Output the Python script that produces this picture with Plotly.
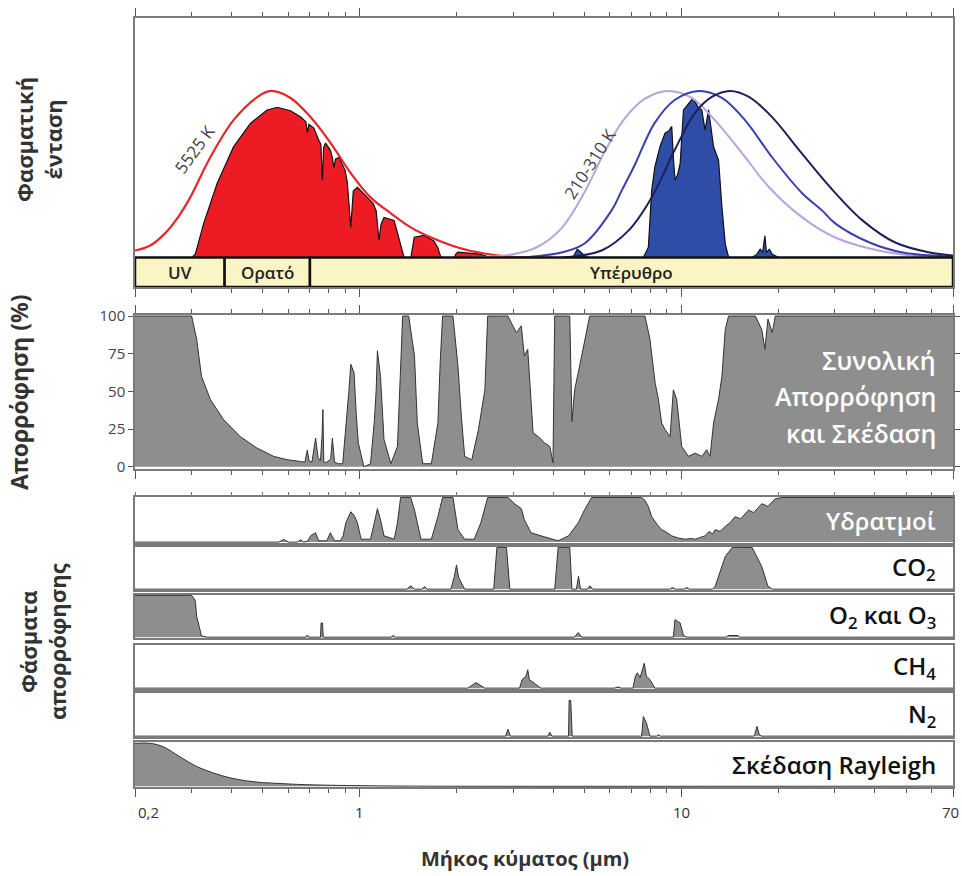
import math
import plotly.graph_objects as go

# ---------------- data (wavelength in µm, value) ----------------
# Top panel: relative spectral intensity (peak = 1)
BB_5525K = [(0.200, 0.042), (0.223, 0.072), (0.248, 0.145), (0.272, 0.241), (0.297, 0.361),
            (0.343, 0.602), (0.405, 0.825), (0.481, 0.964), (0.528, 1.0), (0.609, 0.958),
            (0.703, 0.843), (0.812, 0.687), (0.938, 0.506), (1.08, 0.361), (1.25, 0.265),
            (1.44, 0.181), (1.67, 0.120), (2.02, 0.060), (2.44, 0.024), (2.90, 0.006), (3.94, 0.0)]

SOLAR_SURFACE = [(0.300, 0), (0.308, 0.02), (0.327, 0.203), (0.360, 0.444), (0.405, 0.664),
                 (0.457, 0.805), (0.515, 0.886), (0.554, 0.902), (0.609, 0.881), (0.654, 0.845),
                 (0.680, 0.815), (0.687, 0.75), (0.695, 0.80), (0.720, 0.777), (0.745, 0.705),
                 (0.757, 0.68), (0.765, 0.464), (0.772, 0.66), (0.783, 0.687), (0.810, 0.645),
                 (0.822, 0.60), (0.831, 0.536), (0.840, 0.59), (0.862, 0.602), (0.900, 0.524),
                 (0.915, 0.45), (0.938, 0.181), (0.955, 0.40), (0.984, 0.422), (1.057, 0.361),
                 (1.100, 0.325), (1.125, 0.28), (1.148, 0.102), (1.165, 0.20), (1.19, 0.241),
                 (1.279, 0.223), (1.33, 0.102), (1.355, 0.05), (1.374, 0), (1.442, 0),
                 (1.460, 0.07), (1.477, 0.122), (1.587, 0.133), (1.700, 0.10), (1.747, 0.062),
                 (1.770, 0.02), (1.789, 0), (1.968, 0), (1.990, 0.02), (2.017, 0.032),
                 (2.10, 0.03), (2.33, 0.022), (2.45, 0.012), (2.50, 0.005), (2.60, 0)]

BB_310K = [(2.22, 0), (2.96, 0.018), (3.54, 0.06), (4.24, 0.175), (5.0, 0.392), (5.77, 0.633),
           (6.61, 0.825), (7.69, 0.952), (9.14, 1.0), (10.78, 0.958), (12.72, 0.825),
           (15.45, 0.627), (18.75, 0.422), (23.77, 0.241), (30.1, 0.120), (38.5, 0.054),
           (48.8, 0.018), (70, 0.006)]
BB_260K = [(3.18, 0), (4.24, 0.03), (5.0, 0.084), (6.07, 0.283), (6.52, 0.40), (7.16, 0.554),
           (8.26, 0.807), (9.54, 0.946), (11.34, 1.0), (13.38, 0.958), (15.78, 0.825),
           (19.16, 0.602), (23.77, 0.386), (27.4, 0.283), (30.1, 0.205), (38.5, 0.090),
           (48.8, 0.030), (70, 0.006)]
BB_210K = [(4.24, 0), (5.65, 0.042), (6.86, 0.163), (8.09, 0.361), (9.54, 0.645), (11.02, 0.867),
           (12.45, 0.964), (14.17, 1.0), (16.24, 0.964), (19.16, 0.843), (23.26, 0.645),
           (28.8, 0.43), (36.6, 0.223), (46.3, 0.090), (59.2, 0.030), (70, 0.012)]

THERMAL_ESCAPE = [(4.6, 0), (4.75, 0.05), (4.95, 0.02), (5.1, 0), (7.62, 0), (7.90, 0.062),
                  (8.09, 0.404), (8.28, 0.546), (8.59, 0.667), (8.90, 0.747), (9.15, 0.76),
                  (9.34, 0.787), (9.45, 0.60), (9.56, 0.464), (9.75, 0.50), (9.92, 0.564),
                  (10.16, 0.886), (10.53, 0.926), (10.8, 0.95), (11.04, 0.936), (11.3, 0.90),
                  (11.58, 0.886), (11.86, 0.765), (12.16, 0.886), (12.4, 0.75), (12.6, 0.665),
                  (13.06, 0.584), (13.2, 0.45), (13.38, 0.303), (13.7, 0.082), (14.04, 0),
                  (16.6, 0), (17.2, 0.02), (17.6, 0.05), (17.9, 0.03), (18.2, 0.13), (18.4, 0.03),
                  (18.8, 0.05), (19.2, 0.02), (20.1, 0)]

# Total absorption and scattering (%)
TOTAL_ABS = [(0.200, 100), (0.300, 100), (0.311, 84.7), (0.322, 60), (0.343, 44.7), (0.377, 31.3),
             (0.425, 20), (0.479, 12.4), (0.540, 6.9), (0.594, 4.7), (0.654, 3.5), (0.675, 3),
             (0.687, 11), (0.695, 4), (0.710, 3), (0.729, 19), (0.742, 6), (0.755, 4), (0.763, 20),
             (0.768, 38), (0.773, 3), (0.790, 3), (0.812, 5), (0.822, 19), (0.835, 3), (0.860, 2),
             (0.885, 2), (0.905, 24.7), (0.925, 50), (0.938, 68), (0.960, 62.5), (0.975, 35),
             (0.990, 15.8), (1.030, 0), (1.080, 2), (1.110, 30), (1.125, 51), (1.135, 77),
             (1.160, 60), (1.190, 18), (1.250, 2), (1.310, 13.5), (1.340, 65), (1.360, 100),
             (1.420, 100), (1.480, 73.5), (1.510, 29), (1.570, 2), (1.670, 2), (1.750, 29),
             (1.780, 70), (1.810, 100), (1.950, 100), (2.020, 67), (2.070, 33.5), (2.120, 7),
             (2.230, 4.5), (2.340, 24.7), (2.450, 51), (2.500, 100), (2.890, 100), (3.070, 89),
             (3.180, 93.5), (3.250, 73.5), (3.330, 78), (3.370, 58), (3.460, 22.5), (3.590, 20),
             (3.760, 15.8), (3.900, 13.5), (3.990, 2.5), (4.040, 100), (4.500, 100), (4.570, 30),
             (4.660, 51), (4.900, 73.5), (5.190, 100), (7.710, 100), (7.990, 84.7), (8.290, 55.8),
             (8.490, 44.7), (8.690, 29), (8.900, 24.7), (9.230, 20), (9.450, 51), (9.680, 44.7),
             (10.03, 13.5), (10.53, 6.9), (11.04, 9), (11.59, 6.9), (12.00, 11.3), (12.29, 6.9),
             (12.60, 29), (13.06, 44.7), (13.38, 60), (13.70, 91), (14.03, 100), (17.0, 100),
             (17.8, 91), (18.2, 78), (18.6, 98), (19.2, 89), (19.6, 100), (70.0, 100)]

WATER_VAPOR = [(0.20, 0), (0.56, 0), (0.58, 6), (0.60, 0), (0.64, 0), (0.654, 5), (0.67, 0),
               (0.69, 3), (0.703, 14), (0.729, 21), (0.745, 3), (0.79, 3), (0.81, 21), (0.835, 3),
               (0.870, 3), (0.888, 14), (0.905, 43), (0.938, 68), (0.96, 60), (0.984, 43),
               (1.01, 6.5), (1.08, 6.5), (1.11, 43), (1.135, 75), (1.16, 50), (1.19, 14),
               (1.28, 6.5), (1.31, 43), (1.34, 100), (1.44, 100), (1.48, 72), (1.55, 6.5),
               (1.67, 6.5), (1.75, 57), (1.81, 100), (1.95, 100), (2.02, 28), (2.12, 6.5),
               (2.27, 6.5), (2.38, 43), (2.50, 100), (2.89, 100), (3.03, 86), (3.18, 75),
               (3.25, 50), (3.41, 21), (3.66, 14), (3.94, 6.5), (4.14, 3), (4.46, 14), (4.78, 43),
               (5.0, 72), (5.26, 100), (7.53, 100), (7.71, 93.5), (7.9, 80), (8.09, 57), (8.4, 40),
               (8.69, 28), (9.0, 22), (9.34, 14), (9.8, 9), (10.3, 6.5), (10.7, 8), (11.04, 6.5),
               (11.4, 10), (11.86, 14), (12.2, 24), (12.5, 18), (12.75, 28), (13.2, 24),
               (13.7, 35), (14.2, 44), (14.7, 57), (15.3, 52), (16.2, 72), (16.8, 66), (17.8, 86),
               (18.6, 80), (19.6, 97), (20.6, 100), (70, 100)]

CO2 = [(0.2, 0), (1.40, 0), (1.44, 8), (1.48, 0), (1.56, 0), (1.59, 6), (1.62, 0), (1.92, 0),
       (1.97, 31), (2.0, 58), (2.03, 28), (2.06, 19), (2.12, 0), (2.61, 0), (2.67, 100), (2.86, 100),
       (2.93, 0), (4.04, 0), (4.14, 100), (4.50, 100), (4.57, 0), (4.72, 0), (4.79, 31), (4.86, 0),
       (5.1, 0), (5.2, 8), (5.3, 0), (9.2, 0), (9.4, 4), (9.6, 0), (10.2, 0), (10.4, 4), (10.6, 0),
       (12.5, 0), (12.75, 7), (13.7, 78), (14.4, 100), (16.6, 100), (17.8, 54), (18.6, 7),
       (19.2, 0), (70, 0)]

O2_O3 = [(0.2, 100), (0.30, 100), (0.308, 88), (0.311, 50), (0.322, 3), (0.335, 0), (0.68, 0),
         (0.687, 5), (0.694, 0), (0.755, 0), (0.758, 34), (0.766, 34), (0.77, 0), (1.25, 0),
         (1.27, 4), (1.29, 0), (4.65, 0), (4.78, 11), (4.9, 0), (9.45, 0), (9.56, 42), (9.92, 34),
         (10.16, 4), (10.4, 0), (13.8, 0), (14.0, 4), (15.0, 4), (15.2, 0), (70, 0)]

CH4 = [(0.2, 0), (2.17, 0), (2.3, 13), (2.45, 0), (3.14, 0), (3.2, 20), (3.29, 28), (3.33, 43),
       (3.37, 20), (3.5, 10), (3.66, 0), (6.2, 0), (6.36, 3), (6.5, 0), (7.07, 0), (7.2, 28),
       (7.3, 36), (7.45, 25), (7.67, 58), (7.79, 28), (7.99, 20), (8.28, 0), (70, 0)]

N2 = [(0.2, 0), (2.84, 0), (2.89, 16), (2.94, 0), (3.85, 0), (3.9, 9), (3.96, 0), (4.46, 0),
      (4.48, 84), (4.53, 84), (4.58, 0), (7.53, 0), (7.62, 46), (7.79, 31), (7.99, 0), (8.4, 0),
      (8.5, 4), (8.6, 0), (16.8, 0), (16.9, 3), (17.2, 23), (17.5, 3), (17.8, 0), (70, 0)]

RAYLEIGH = [(0.2, 98), (0.223, 98), (0.245, 90), (0.276, 67), (0.311, 45), (0.351, 30),
            (0.395, 19), (0.445, 12), (0.502, 8), (0.566, 6), (0.64, 4), (0.81, 2), (1.03, 1),
            (1.5, 0), (70, 0)]

BANDS = [("UV", 0.2, 0.38), ("Ορατό", 0.38, 0.70), ("Υπέρυθρο", 0.70, 70)]
X_MAJOR = [0.2, 1, 10, 70]
X_MAJOR_TEXT = ["0,2", "1", "10", "70"]
X_MINOR = [0.3, 0.4, 0.5, 0.6, 0.7, 0.8, 0.9, 2, 3, 4, 5, 6, 7, 8, 9, 20, 30, 40, 50, 60]
ABS_TICKS = [0, 25, 50, 75, 100]

# ---------------- figure ----------------
def xs(d):
    return [p[0] for p in d]

def ys(d):
    return [p[1] for p in d]

FONT = "Open Sans"
GREY_FILL = "#8e8e8e"
OUTLINE = "#333333"
FRAME = "#7a7a7a"

fig = go.Figure()

fig.add_trace(go.Scatter(x=xs(SOLAR_SURFACE), y=ys(SOLAR_SURFACE), fill="tozeroy",
                         fillcolor="#ED1C24", line=dict(color="#111", width=1.2),
                         mode="lines", xaxis="x", yaxis="y"))
fig.add_trace(go.Scatter(x=xs(THERMAL_ESCAPE), y=ys(THERMAL_ESCAPE), fill="tozeroy",
                         fillcolor="#2E4DA7", line=dict(color="#111", width=1.2),
                         mode="lines", xaxis="x", yaxis="y"))
fig.add_trace(go.Scatter(x=xs(BB_5525K), y=ys(BB_5525K), mode="lines",
                         line=dict(color="#E8262A", width=2.2, shape="spline"),
                         xaxis="x", yaxis="y"))
for d, c in [(BB_310K, "#B9A3DA"), (BB_260K, "#3B3FAE"), (BB_210K, "#1F1F5E")]:
    fig.add_trace(go.Scatter(x=xs(d), y=ys(d), mode="lines",
                             line=dict(color=c, width=2, shape="spline"),
                             xaxis="x", yaxis="y"))

panels = [TOTAL_ABS, WATER_VAPOR, CO2, O2_O3, CH4, N2, RAYLEIGH]
for i, d in enumerate(panels, start=2):
    shape = "spline" if d is RAYLEIGH else "linear"
    fig.add_trace(go.Scatter(x=xs(d), y=ys(d), fill="tozeroy", fillcolor=GREY_FILL,
                             mode="lines", line=dict(color=OUTLINE, width=1, shape=shape),
                             xaxis=f"x{i}", yaxis=f"y{i}"))

H_PLOT = 769.0
def yp(px):
    return (787 - px) / H_PLOT

def xp(px):
    return (px - 135) / 818.0

y_domains = {
    1: [yp(287), 1.0],
    2: [yp(469), yp(315)],
    3: [yp(543), yp(497)],
    4: [yp(590), yp(547)],
    5: [yp(638), yp(595)],
    6: [yp(689), yp(645)],
    7: [yp(737), yp(693)],
    8: [0.0, yp(742)],
}
LOGR = [math.log10(0.2), math.log10(70)]
TOP_RANGE = [-0.177, 1.438]

layout = dict(width=962, height=876, margin=dict(l=135, r=9, t=18, b=89, autoexpand=False),
              plot_bgcolor="white", paper_bgcolor="white", showlegend=False,
              font=dict(family=FONT, color="#333"))

for i in range(1, 9):
    ax = dict(type="log", range=LOGR, domain=[0, 1], anchor=f"y{i}", automargin=False,
              showline=True, linecolor=FRAME, linewidth=1.5, mirror=True,
              showgrid=False, zeroline=False, showticklabels=False, ticks="")
    if i > 1:
        ax["matches"] = "x"
    if i in (1, 2, 8):
        ax.update(ticks="outside", tickvals=X_MAJOR, ticklen=8, tickcolor="#555",
                  tickwidth=1.2,
                  minor=dict(tickvals=X_MINOR, ticks="outside", ticklen=4,
                             tickcolor="#555", tickwidth=1.2))
        if i in (1, 2):
            ax["mirror"] = "ticks"
    if i == 3:
        ax.update(side="top", ticks="outside", tickvals=X_MAJOR, ticklen=3,
                  tickcolor="#777",
                  minor=dict(tickvals=X_MINOR, ticks="outside", ticklen=3, tickcolor="#777"))
    layout["xaxis" if i == 1 else f"xaxis{i}"] = ax

    yax = dict(domain=y_domains[i], anchor=f"x{i}" if i > 1 else "x", automargin=False,
               showline=True, linecolor=FRAME, linewidth=1.5, mirror=True,
               showgrid=False, zeroline=False, showticklabels=False, ticks="")
    if i == 1:
        yax["range"] = TOP_RANGE
    elif i == 2:
        yax.update(range=[-1.5, 100.7], tickvals=ABS_TICKS, showticklabels=True,
                   ticks="outside", ticklen=5, tickcolor="#555", mirror="ticks",
                   tickfont=dict(size=15, color="#444", family=FONT))
    else:
        yax["range"] = [-2, 101]
    layout["yaxis" if i == 1 else f"yaxis{i}"] = yax

fig.update_layout(**layout)

shapes = []
annotations = []
for name, a, b in BANDS:
    shapes.append(dict(type="rect", xref="x", yref="y", x0=a, x1=b,
                       y0=TOP_RANGE[0], y1=0, fillcolor="#FBF4C4",
                       line=dict(color="#111", width=2.5), layer="above"))
    annotations.append(dict(xref="x", yref="y", x=math.log10(math.sqrt(a * b)),
                            y=TOP_RANGE[0] / 2, text=name, showarrow=False,
                            font=dict(size=17, color="#222", family=FONT, weight=600)))

# x tick labels (bottom axis)
for v, t in zip(X_MAJOR, X_MAJOR_TEXT):
    anchor, shift = "center", 0
    if v == X_MAJOR[0]:
        anchor, shift = "left", 1
    if v == X_MAJOR[-1]:
        shift = -3
    annotations.append(dict(xref="x8", yref="paper", x=math.log10(v), y=yp(812), text=t,
                            showarrow=False, xanchor=anchor, yanchor="middle", xshift=shift,
                            font=dict(size=15, color="#333", family=FONT)))

def note(text, x, y, size, color="#333", angle=0, anchor="center", weight="normal"):
    annotations.append(dict(xref="paper", yref="paper", x=x, y=y, text=text, showarrow=False,
                            textangle=angle, xanchor=anchor, yanchor="middle",
                            font=dict(size=size, color=color, family=FONT, weight=weight)))

note("5525 K", xp(194), yp(149), 17, "#444", -54)
note("210-310 K", xp(589), yp(164), 17, "#444", -57)

for t, ypx in [("Συνολική", 360), ("Απορρόφηση", 396), ("και Σκέδαση", 433)]:
    note(t, xp(938), yp(ypx), 25, "white", anchor="right", weight=600)
note("Υδρατμοί", xp(938), yp(520), 24, "white", anchor="right", weight=600)
note("CO<sub>2</sub>", xp(938), yp(568), 24, "#111", anchor="right", weight=600)
note("O<sub>2</sub> και O<sub>3</sub>", xp(938), yp(616), 24, "#111", anchor="right", weight=600)
note("CH<sub>4</sub>", xp(938), yp(667), 24, "#111", anchor="right", weight=600)
note("N<sub>2</sub>", xp(938), yp(715), 24, "#111", anchor="right", weight=600)
note("Σκέδαση Rayleigh", xp(938), yp(764), 24, "#111", anchor="right", weight=600)

note("Φασματική<br>ένταση", xp(39), yp(140), 22, "#333", -90, weight="bold")
note("Απορρόφηση (%)", xp(19), yp(392), 23, "#333", -90, weight="bold")
note("Φάσματα<br>απορρόφησης", xp(42), yp(642), 22, "#333", -90, weight="bold")
note("Μήκος κύματος (μm)", xp(525), yp(858), 20, "#333", weight="bold")

fig.update_layout(shapes=shapes, annotations=annotations)
fig.write_html("out.html", config={"displayModeBar": False},
               post_script="document.body.style.margin='0px';")
